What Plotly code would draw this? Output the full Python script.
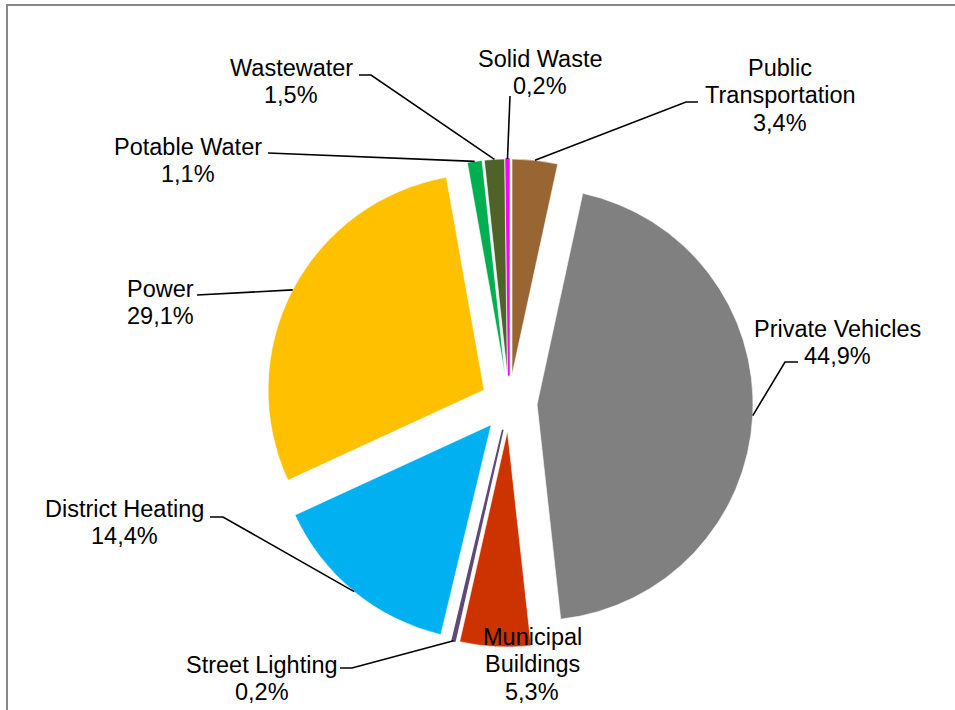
import math
import plotly.graph_objects as go

# Energy use by sector (share of total, %)
sectors = [
    "Public Transportation", "Private Vehicles", "Municipal Buildings",
    "Street Lighting", "District Heating", "Power", "Potable Water",
    "Wastewater", "Solid Waste",
]
shares = [3.4, 44.9, 5.3, 0.2, 14.4, 29.1, 1.1, 1.5, 0.2]
colors = [
    "#996633", "#808080", "#CC3300", "#5F497A", "#00B0F0",
    "#FFC000", "#00B050", "#4F6228", "#FF00FF",
]

W, H = 955, 710
PULL = 0.13
R = 216                 # slice radius in px
CX, CY = 509, 403       # pie centre in px
FONT = "Liberation Sans, Arial, sans-serif"
FS = 23.5
LINE_H = 27.7

# label layout: centre x, baseline of first line, leader path (label end first)
label_layout = {
    "Public Transportation": dict(x=780, y=76, lines=["Public", "Transportation"],
                                  lead=[(698, 102), (686, 102)]),
    "Private Vehicles": dict(x=837, y=337, lines=["Private Vehicles"],
                             lead=[(798, 362), (785, 362)]),
    "Municipal Buildings": dict(x=532, y=645, lines=["Municipal", "Buildings"], lead=None),
    "Street Lighting": dict(x=262, y=673, lines=["Street Lighting"],
                            lead=[(340, 668), (352, 668)]),
    "District Heating": dict(x=124, y=517, lines=["District Heating"],
                             lead=[(210, 517), (223, 517)]),
    "Power": dict(x=160, y=297, lines=["Power"], lead=[(197, 295)]),
    "Potable Water": dict(x=188, y=155, lines=["Potable Water"], lead=[(268, 153)]),
    "Wastewater": dict(x=291, y=76, lines=["Wastewater"], lead=[(359, 75), (371, 75)]),
    "Solid Waste": dict(x=540, y=67, lines=["Solid Waste"], lead=[(510, 96)]),
}


def px(x):
    return x / W


def py(y):
    return 1 - y / H


# very thin slices get an outline in their own colour so they stay visible
edge_colors = [c if v < 0.5 else "white" for c, v in zip(colors, shares)]
edge_widths = [1.8 if v < 0.5 else 0.6 for v in shares]

half = R * (1 + PULL)
fig = go.Figure(go.Pie(
    labels=sectors,
    values=shares,
    sort=False,
    direction="clockwise",
    rotation=0,
    pull=[PULL] * len(shares),
    marker=dict(colors=colors, line=dict(color=edge_colors, width=edge_widths)),
    textinfo="none",
    hoverinfo="label+percent",
    showlegend=False,
    domain=dict(x=[px(CX - half), px(CX + half)],
                y=[py(CY + half), py(CY - half)]),
))

annotations = []
shapes = []
total = sum(shares)
cum = 0.0
for name, val in zip(sectors, shares):
    mid = (cum + val / 2) / total * 2 * math.pi
    cum += val
    # outer edge of the exploded slice at its mid angle
    d = R * (1 + PULL)
    ex, ey = CX + d * math.sin(mid), CY - d * math.cos(mid)

    lay = label_layout[name]
    lines = lay["lines"] + [f"{val:.1f}".replace(".", ",") + "%"]
    for i, t in enumerate(lines):
        base = lay["y"] + i * LINE_H
        annotations.append(dict(
            x=px(lay["x"]), y=py(base - 0.36 * FS), xref="paper", yref="paper",
            text=t, showarrow=False, xanchor="center", yanchor="middle",
            font=dict(family=FONT, size=FS, color="black"),
        ))
    if lay["lead"]:
        pts = lay["lead"] + [(ex, ey)]
        path = "M " + " L ".join(f"{px(a)},{py(b)}" for a, b in pts)
        shapes.append(dict(type="path", xref="paper", yref="paper", path=path,
                           line=dict(color="black", width=1.6)))

# chart frame
shapes.append(dict(type="rect", xref="paper", yref="paper",
                   x0=px(7), y0=py(H + 10), x1=px(W + 10), y1=py(5),
                   line=dict(color="#888888", width=2)))

fig.update_layout(
    width=W, height=H,
    margin=dict(l=0, r=0, t=0, b=0),
    paper_bgcolor="white",
    plot_bgcolor="white",
    annotations=annotations,
    shapes=shapes,
)

fig.write_html("out.html")
